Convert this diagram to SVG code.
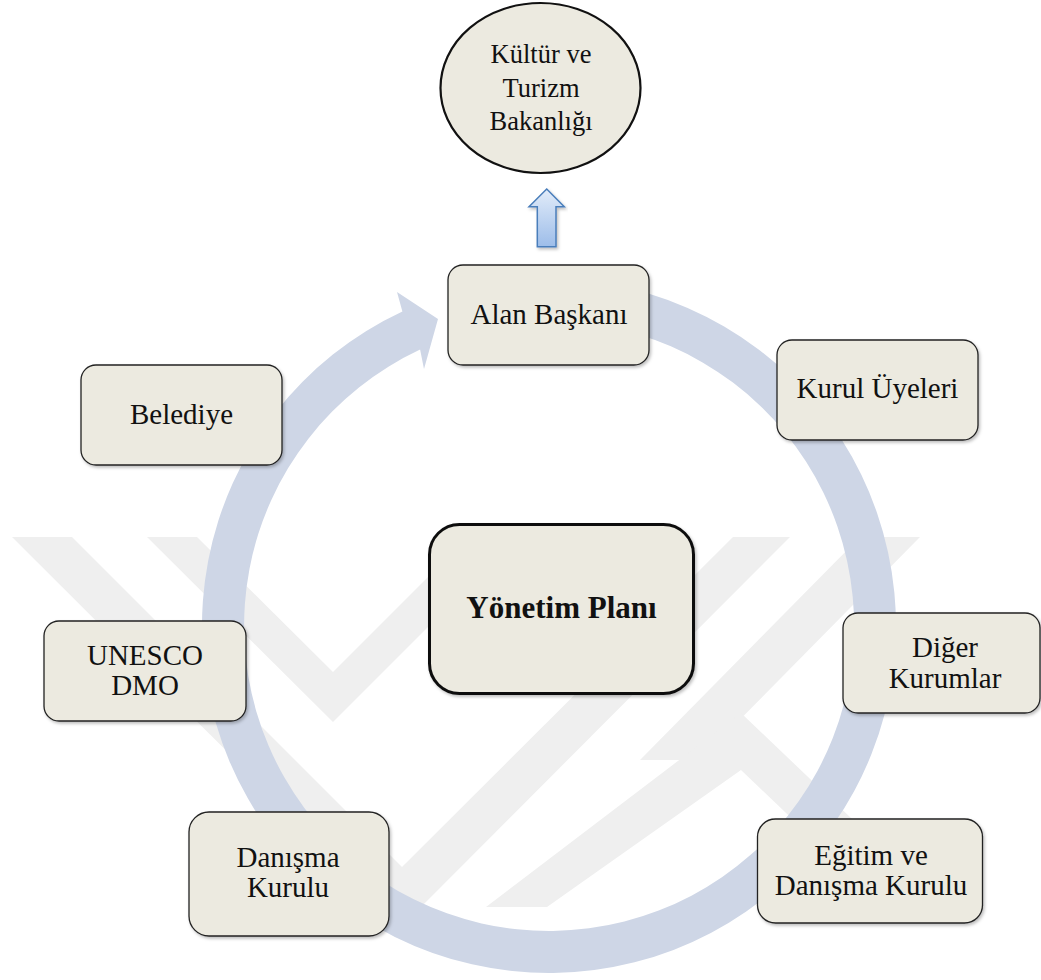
<svg xmlns="http://www.w3.org/2000/svg" width="1041" height="980" viewBox="0 0 1041 980">
<defs>
<style>
.box{fill:#eceae0;stroke:#222;stroke-width:1.3}
.lbl{font-family:"Liberation Serif","Times New Roman",serif;font-size:29px;fill:#111;text-anchor:middle}
.wm{fill:#efefef}
</style>
<linearGradient id="upg" x1="0" y1="0" x2="0" y2="1">
<stop offset="0" stop-color="#e2ecf9"/>
<stop offset="1" stop-color="#9dbde9"/>
</linearGradient>
<filter id="sh" x="-10%" y="-10%" width="120%" height="130%">
<feDropShadow dx="1.5" dy="2" stdDeviation="1.5" flood-color="#000" flood-opacity="0.25"/>
</filter>
</defs>
<rect width="1041" height="980" fill="#fff"/>
<g id="watermark">
<polygon class="wm" points="147,537 197,537 333,672 468,537 518,537 333,722"/>
<polygon class="wm" points="12,537 72,537 402,867 733,537 790,537 402,926"/>
<polygon class="wm" points="860,537 920,537 700,760 640,760"/>
<polygon class="wm" points="741,713 960,922 900,922 741,770 547,907 486,907"/>
</g>
<g id="connectors">
<path id="cycle" d="M609.3,284.3 A347,347 0 1 1 402.4,311.5 L397,292 L438,319 L424,369 L420.1,349.6 A305,305 0 1 0 602,325.6 Z" fill="#ced6e6"/>
<polygon id="up-arrow" points="546.7,189 564.3,206.7 556,206.7 556,246.7 537.3,246.7 537.3,206.7 529,206.7" fill="url(#upg)" stroke="#4a7ebb" stroke-width="1.5" filter="url(#sh)"/>
</g>
<g id="node-bakanlik">
<ellipse cx="540.5" cy="88" rx="100" ry="85" fill="#eceae0" stroke="#111" stroke-width="2.2"/>
<text class="lbl" style="font-size:26.5px" x="541" y="63">Kültür ve</text>
<text class="lbl" style="font-size:26.5px" x="541" y="97">Turizm</text>
<text class="lbl" style="font-size:26.5px" x="541" y="130">Bakanlığı</text>
</g>
<g id="node-alan">
<rect class="box" x="448" y="265" width="201" height="100" rx="15" filter="url(#sh)"/>
<text class="lbl" x="549" y="324">Alan Başkanı</text>
</g>
<g id="node-kurul">
<rect class="box" x="777" y="340" width="201" height="100" rx="15" filter="url(#sh)"/>
<text class="lbl" x="877.5" y="398">Kurul Üyeleri</text>
</g>
<g id="node-belediye">
<rect class="box" x="81" y="365" width="201" height="100" rx="15" filter="url(#sh)"/>
<text class="lbl" x="181.5" y="424">Belediye</text>
</g>
<g id="node-unesco">
<rect class="box" x="44" y="621" width="202" height="100" rx="15" filter="url(#sh)"/>
<text class="lbl" x="145" y="665">UNESCO</text>
<text class="lbl" x="145" y="694.5">DMO</text>
</g>
<g id="node-yonetim">
<rect x="429.5" y="524.5" width="264" height="169" rx="30" fill="#eceae0" stroke="#111" stroke-width="3" filter="url(#sh)"/>
<text class="lbl" style="font-size:31px;font-weight:bold" x="561.5" y="618">Yönetim Planı</text>
</g>
<g id="node-diger">
<rect class="box" x="843" y="613" width="197" height="100" rx="15" filter="url(#sh)"/>
<text class="lbl" x="945" y="657">Diğer</text>
<text class="lbl" x="945" y="687.5">Kurumlar</text>
</g>
<g id="node-egitim">
<rect class="box" x="757.5" y="819" width="225" height="104" rx="18" filter="url(#sh)"/>
<text class="lbl" x="871" y="864.5">Eğitim ve</text>
<text class="lbl" x="871" y="894.5">Danışma Kurulu</text>
</g>
<g id="node-danisma">
<rect class="box" x="189" y="812" width="200" height="124" rx="20" filter="url(#sh)"/>
<text class="lbl" x="288" y="867">Danışma</text>
<text class="lbl" x="288" y="897">Kurulu</text>
</g>
</svg>
